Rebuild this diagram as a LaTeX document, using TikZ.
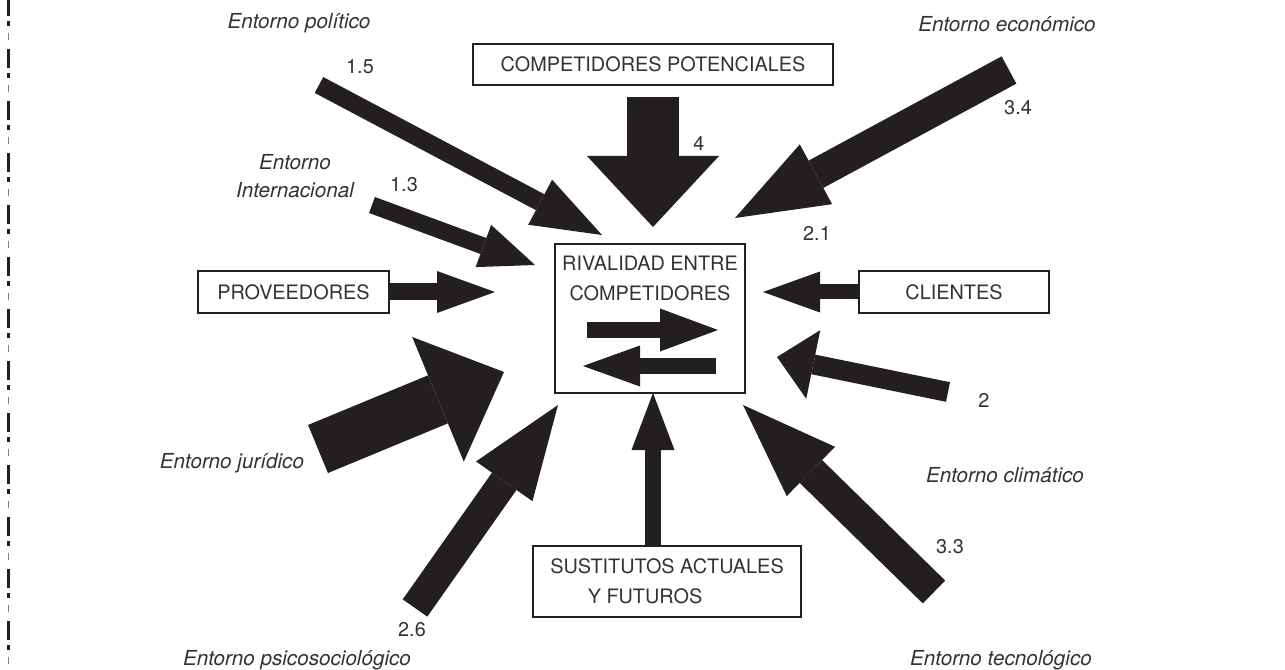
\documentclass[tikz,border=0pt]{standalone}
\usepackage{fontspec}
\setmainfont{TeX Gyre Heros}
\usetikzlibrary{arrows.meta}
\definecolor{ink}{RGB}{35,31,32}
\definecolor{txt}{RGB}{50,50,50}
\tikzset{every picture/.style={line width=0.75pt}}
\tikzset{
  caja/.style={draw=ink, line width=1.5pt, text=txt, inner sep=0pt, align=center},
  entorno/.style={text=txt, font=\fontsize{15.5}{21}\selectfont\itshape, inner sep=0.75pt, align=center},
  cifra/.style={text=txt, inner sep=0.75pt, align=center},
  flecha/.style n args={3}{draw=ink, line width=#1, -{Triangle[width=#2,length=#3,line width=0pt]}}
}

\begin{document}
\begin{tikzpicture}[x=0.75pt,y=0.75pt,yscale=-1,xscale=1,font=\fontsize{14.9}{22.5}\selectfont]
\useasboundingbox (0,0) rectangle (1285,670);

%Dashed margin line
\draw [ink, line width=1.9pt, dash pattern=on 14.25pt off 3.75pt on 3.75pt off 17.25pt, dash phase=2.25pt] (8.7,0) -- (8.7,670) ;
\draw [gray, line width=1pt, dash pattern=on 5.25pt off 33.75pt, dash phase=14.25pt] (8.7,0) -- (8.7,670) ;

% Boxes
\node (pot) [caja, minimum width=270pt, minimum height=30.75pt] at (653,64.5) {COMPETIDORES POTENCIALES};
\node (rival) [caja, minimum width=142.5pt, minimum height=111.75pt] at (650,318.5) {};
\node (rivalTxt) [cifra] at (650,278) {RIVALIDAD ENTRE\\COMPETIDORES};
\node (prov) [caja, minimum width=143.25pt, minimum height=31.5pt] at (293.5,292) {PROVEEDORES};
\node (cli) [caja, minimum width=142.5pt, minimum height=31.5pt] at (954,292) {CLIENTES};
\node (sust) [caja, minimum width=201pt, minimum height=53.25pt] at (667,581.5) {SUSTITUTOS ACTUALES\\Y FUTUROS\hspace*{33pt}};

% Text Node
\node (lblPol) [entorno] at (299,23) {Entorno político};
\node (numPol) [cifra] at (360,67) {1.5};
\node (lblInt) [entorno] at (295,176) {Entorno\\Internacional};
\node (numInt) [cifra] at (404,185) {1.3};
\node (numPot) [cifra] at (699,143) {4};
\node (lblEco) [entorno] at (1007,24) {Entorno económico};
\node (numEco) [cifra] at (1018,108) {3.4};
\node (numCli) [cifra] at (817,233) {2.1};
\node (numCli2) [cifra] at (984,400) {2};
\node (lblJur) [entorno] at (232,463) {Entorno jurídico};
\node (lblCli) [entorno] at (1005,475) {Entorno climático};
\node (numTec) [cifra] at (950,547) {3.3};
\node (numPsi) [cifra] at (412,630) {2.6};
\node (lblPsi) [entorno] at (297,660) {Entorno psicosociológico};
\node (lblTec) [entorno] at (1001,660) {Entorno tecnológico};

% Arrow ends
\coordinate (polT) at (319,85);
\coordinate (polH) at (602,235);
\coordinate (intT) at (372,205);
\coordinate (intH) at (535,265);
\coordinate (potT) at (653,97);
\coordinate (potH) at (653,227);
\coordinate (ecoT) at (1009,70);
\coordinate (ecoH) at (735,218);
\coordinate (provH) at (495,292);
\coordinate (cliH) at (763,292);
\coordinate (jurT) at (318,449);
\coordinate (jurH) at (504,372);
\coordinate (psiT) at (415,608);
\coordinate (psiH) at (558,405);
\coordinate (sustH) at (653,393);
\coordinate (tecT) at (934,592);
\coordinate (tecH) at (743,405);
\coordinate (climT) at (948,392);
\coordinate (climH) at (777,357);
\coordinate (inRT) at (587,330);
\coordinate (inRH) at (718,330);
\coordinate (inLT) at (716,366);
\coordinate (inLH) at (583,366);

% Fat arrows
\draw [flecha={13.5pt}{38.25pt}{52.5pt}] (polT) -- (polH) ;
\draw [flecha={12.75pt}{33.75pt}{41.25pt}] (intT) -- (intH) ;
\draw [flecha={39pt}{99pt}{53.25pt}] (potT) -- (potH) ;
\draw [flecha={23.25pt}{51pt}{69pt}] (ecoT) -- (ecoH) ;
\draw [flecha={12.75pt}{31.5pt}{43.5pt}] (prov.east) -- (provH) ;
\draw [flecha={11.25pt}{30.75pt}{42.75pt}] (cli.west) -- (cliH) ;
\draw [flecha={39pt}{101.25pt}{53.6pt}] (jurT) -- (jurH) ;
\draw [flecha={22.5pt}{51.75pt}{70pt}] (psiT) -- (psiH) ;
\draw [flecha={12pt}{32.25pt}{42.75pt}] (sustH |- sust.north) -- (sustH) ;
\draw [flecha={24pt}{51.75pt}{71.25pt}] (tecT) -- (tecH) ;
\draw [flecha={15pt}{52.5pt}{27.75pt}] (climT) -- (climH) ;
\draw [flecha={12pt}{32.25pt}{43.5pt}] (inRT) -- (inRH) ;
\draw [flecha={12pt}{30.75pt}{42.75pt}] (inLT) -- (inLH) ;
\end{tikzpicture}
\end{document}
